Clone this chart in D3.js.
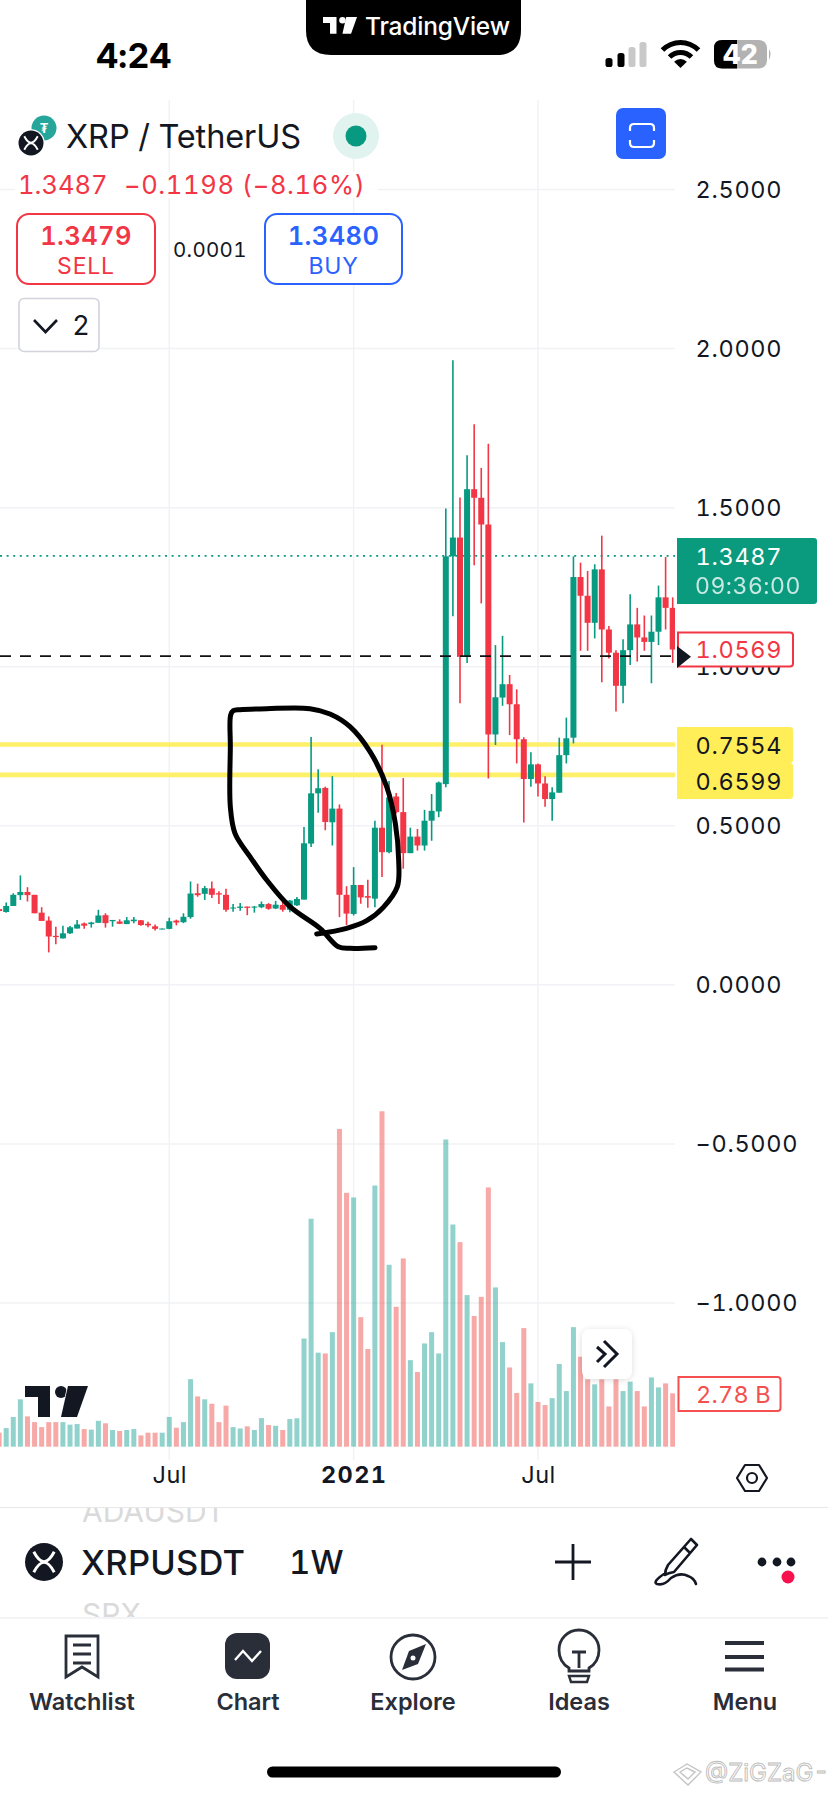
<!DOCTYPE html>
<html><head><meta charset="utf-8">
<script src="https://cdnjs.cloudflare.com/ajax/libs/d3/7.8.5/d3.min.js"></script>
<style>html,body{margin:0;padding:0;background:#fff}svg{display:block}text{font-family:Inter,"Noto Sans",sans-serif;font-variant-numeric:tabular-nums}</style>
</head><body><svg id="c" width="828" height="1794" viewBox="0 0 828 1794"></svg>
<script>
// Weekly XRP/USDT candles (index 0 is the partly cut candle at the left edge)
const opens=[.238,.229,.248,.282,.292,.283,.227,.202,.154,.146,.162,.177,.193,.191,.195,.219,.200,.199,.191,.200,.203,.192,.184,.175,.176,.202,.197,.213,.288,.286,.303,.288,.283,.240,.242,.246,.243,.244,.254,.240,.251,.236,.250,.268,.444,.602,.619,.511,.554,.283,.223,.314,.279,.271,.494,.417,.592,.543,.414,.466,.438,.516,.545,.631,1.347,1.406,1.031,1.558,1.531,1.447,.787,.903,.945,.882,.772,.647,.693,.633,.584,.604,.722,.777,1.282,1.223,1.138,1.306,1.117,1.044,.940,1.052,1.133,1.092,1.078,1.110,1.218,1.185];
const highs=[.242,.259,.288,.344,.307,.283,.244,.215,.183,.186,.185,.204,.196,.198,.236,.225,.204,.206,.213,.213,.204,.198,.190,.177,.211,.205,.225,.325,.318,.311,.325,.294,.302,.254,.257,.246,.248,.262,.257,.264,.262,.267,.276,.496,.779,.678,.623,.656,.567,.310,.370,.314,.330,.516,.755,.641,.603,.650,.494,.490,.550,.600,.639,1.497,1.963,1.532,1.665,1.762,1.625,1.701,1.068,1.097,.974,.929,.778,.731,.696,.656,.621,.777,.840,1.347,1.327,1.301,1.322,1.412,1.128,1.052,1.086,1.228,1.185,1.161,1.161,1.255,1.345,1.218];
const lows=[.229,.227,.248,.267,.262,.225,.201,.102,.128,.146,.160,.177,.176,.180,.195,.180,.183,.191,.191,.194,.186,.181,.171,.175,.175,.187,.194,.208,.277,.267,.273,.254,.230,.230,.233,.219,.227,.241,.236,.238,.230,.228,.248,.268,.433,.541,.486,.438,.213,.188,.218,.255,.242,.244,.339,.414,.539,.365,.414,.422,.422,.453,.527,.621,1.159,.885,1.012,1.319,1.199,.649,.754,.877,.785,.696,.510,.623,.592,.560,.516,.604,.696,.759,1.050,1.050,1.089,.951,1.026,.859,.885,1.005,1.016,1.050,.948,1.068,1.117,1.012];
const closes=[.232,.248,.283,.292,.282,.225,.201,.152,.150,.162,.181,.190,.186,.196,.218,.194,.204,.192,.203,.205,.188,.187,.176,.177,.200,.196,.214,.287,.282,.304,.283,.284,.236,.243,.246,.242,.246,.254,.239,.252,.236,.265,.270,.445,.602,.618,.512,.554,.283,.224,.314,.275,.274,.494,.417,.589,.543,.414,.466,.438,.516,.547,.636,1.347,1.406,1.031,1.558,1.531,1.447,.787,.904,.945,.882,.772,.647,.693,.633,.584,.605,.722,.775,1.282,1.223,1.138,1.306,1.117,1.044,.940,1.052,1.133,1.092,1.078,1.110,1.218,1.185,1.054];
// Volume per week, in billions
const volumes=[.73,.97,1.55,2.47,1.58,1.28,1.02,1.28,1.28,1.28,1.15,1.18,.92,.89,1.35,1.22,.87,.82,.87,.92,.59,.73,.73,.73,1.55,.99,1.28,3.52,2.62,2.47,2.24,1.28,2.14,1.02,.95,1.06,.87,1.49,1.13,1.09,.87,1.44,1.48,5.64,11.88,4.90,4.86,5.97,16.56,13.23,12.99,6.75,5.09,13.61,17.48,9.48,7.29,9.81,4.51,3.89,5.38,5.97,4.86,16.01,11.58,10.66,7.90,6.81,7.81,13.51,8.30,5.45,4.13,2.80,6.18,3.30,2.33,2.17,2.53,4.31,2.90,6.23,4.69,3.51,3.25,3.51,2.10,3.51,2.90,3.39,2.90,2.10,3.61,3.09,3.30,2.78];
const priceTicks=[2.5,2,1.5,1,.5,0,-.5,-1];
const timeTickIdx=[24,50,76];
const timeTickLabels=["Jul","2021","Jul"];
const supportLevels=[.7554,.6599];
const lastPrice=1.3487, avgLine=1.033;
const scribble=[[950,762],[1040,745],[1100,722],[1150,682],[1192,620],[1196,540],[1186,430],[1160,320],[1110,215],[1050,140],[990,102],[930,86],[800,86],[720,89],[700,92],[692,105],[691,200],[691,380],[705,460],[750,530],[800,600],[870,680],[960,745],[1015,800],[1050,805],[1125,803]];

const GREEN="#089981",RED="#f23645",INK="#131722",NAV="#2a2e39",BLUE="#2962ff",GRID="#f1f2f5",YEL="#ffee58";
const VOL_UP="#26a69a",VOL_DOWN="#ef5350";
const svg=d3.select("#c");
const defs=svg.append("defs");
defs.append("clipPath").attr("id","plot").append("rect").attr("x",0).attr("y",100).attr("width",675).attr("height",1360);
defs.append("clipPath").attr("id","adaClip").append("rect").attr("x",0).attr("y",1508).attr("width",828).attr("height",109);
const f=defs.append("filter").attr("id","shadow").attr("x","-30%").attr("y","-30%").attr("width","160%").attr("height","160%");
f.append("feDropShadow").attr("dx",0).attr("dy",1).attr("stdDeviation",3).attr("flood-color","#000").attr("flood-opacity",.14);

const x=d3.scaleLinear().domain([0,95]).range([-0.89,672.7]);
const y=d3.scaleLinear().domain([-1,2.5]).range([1303,189.5]);
const v=d3.scaleLinear().domain([0,18]).range([1446.7,1101.3]);
const idx=d3.range(volumes.length);
const up=i=>closes[i]>=opens[i];

const plot=svg.append("g").attr("clip-path","url(#plot)");
// grid
plot.selectAll(".gh").data(priceTicks).join("line").attr("x1",0).attr("x2",675).attr("y1",d=>y(d)).attr("y2",d=>y(d)).attr("stroke",GRID).attr("stroke-width",1.5);
plot.selectAll(".gv").data(timeTickIdx).join("line").attr("x1",d=>x(d)).attr("x2",d=>x(d)).attr("y1",100).attr("y2",1460).attr("stroke",GRID).attr("stroke-width",1.5);
// levels
plot.selectAll(".lvl").data(supportLevels).join("line").attr("x1",0).attr("x2",675).attr("y1",d=>y(d)).attr("y2",d=>y(d)).attr("stroke","#fff06a").attr("stroke-width",4.6);
plot.append("line").attr("x1",0).attr("x2",675).attr("y1",y(lastPrice)).attr("y2",y(lastPrice)).attr("stroke",GREEN).attr("stroke-width",1.8).attr("stroke-dasharray","2 4.6");
// volume
plot.selectAll(".vol").data(idx).join("rect").attr("x",i=>x(i)-2.5).attr("width",5).attr("y",i=>v(volumes[i])).attr("height",i=>v(0)-v(volumes[i])).attr("fill",i=>up(i)?VOL_UP:VOL_DOWN).attr("opacity",.5);
// candles
plot.selectAll(".wick").data(idx).join("line").attr("x1",i=>x(i)).attr("x2",i=>x(i)).attr("y1",i=>y(highs[i])).attr("y2",i=>y(lows[i])).attr("stroke",i=>up(i)?GREEN:RED).attr("stroke-width",1.6);
plot.selectAll(".body").data(idx).join("rect").attr("x",i=>x(i)-3).attr("width",6).attr("y",i=>y(Math.max(opens[i],closes[i]))).attr("height",i=>Math.max(1,Math.abs(y(opens[i])-y(closes[i])))).attr("fill",i=>up(i)?GREEN:RED);
// dashed line
plot.append("line").attr("x1",0).attr("x2",675).attr("y1",y(avgLine)).attr("y2",y(avgLine)).attr("stroke","#111").attr("stroke-width",1.8).attr("stroke-dasharray","11 9");
// tv logo
function tvLogo(g,col){
 g.append("path").attr("d","M0 0H25V31H13V11H0Z").attr("fill",col);
 g.append("circle").attr("cx",36).attr("cy",6).attr("r",6).attr("fill",col);
 g.append("path").attr("d","M43 0H63L52 31H36Z").attr("fill",col);
}
const lg=svg.append("g").attr("transform","translate(25,1386)");
tvLogo(lg,INK);
lg.selectAll("path,circle").attr("stroke","#fff").attr("stroke-width",1.5).attr("paint-order","stroke");
// scribble
svg.append("path").attr("d",d3.line().x(d=>d[0]/3).y(d=>680+d[1]/3).curve(d3.curveCatmullRom.alpha(.5))(scribble)).attr("fill","none").attr("stroke","#000").attr("stroke-width",5).attr("stroke-linecap","round").attr("stroke-linejoin","round");

// axes
const yAxis=d3.axisRight(y).tickValues(priceTicks).tickSize(0).tickPadding(0).tickFormat(d3.format(".4f"));
const ya=svg.append("g").attr("transform","translate(695.5,0)").call(yAxis);
ya.select(".domain").remove();
ya.selectAll("text").attr("font-size",23.5).attr("fill",INK).attr("letter-spacing",.7).attr("font-family","Inter");
const xAxis=d3.axisBottom(x).tickValues(timeTickIdx).tickSize(0).tickPadding(0).tickFormat((d,i)=>timeTickLabels[i]);
const xa=svg.append("g").attr("transform","translate(0,1466)").call(xAxis);
xa.select(".domain").remove();
xa.selectAll("text").attr("font-size",23.5).attr("fill",INK).attr("font-family","Inter").attr("font-weight",(d,i)=>timeTickLabels[i]==="2021"?700:400).attr("letter-spacing",(d,i)=>timeTickLabels[i]==="2021"?1.4:.5);

// price tags
function tag(xx,yy,w,h,fill,stroke){
 const r=3;
 svg.append("path").attr("d",`M${xx} ${yy}H${xx+w-r}Q${xx+w} ${yy} ${xx+w} ${yy+r}V${yy+h-r}Q${xx+w} ${yy+h} ${xx+w-r} ${yy+h}H${xx}Z`).attr("fill",fill).attr("stroke",stroke||"none").attr("stroke-width",stroke?2:0);
}
function label(t,xx,yy,o){
 return svg.append("text").attr("x",xx).attr("y",yy).attr("dominant-baseline","central").attr("text-anchor",(o&&o.a)||"start").attr("font-size",(o&&o.s)||23.5).attr("font-weight",(o&&o.w)||400).attr("fill",(o&&o.c)||INK).attr("letter-spacing",(o&&o.ls)||0).attr("opacity",(o&&o.o)||1).text(t);
}
const tagV=d=>d3.format(".4f")(d);
tag(677,538,140,66,"#0a9a7e");
label(tagV(lastPrice),695.5,556,{c:"#fff",ls:.7});
label("09:36:00",695,586,{c:"#fff",o:.78,ls:.5,s:23});
tag(678,632.5,115,34,"#fff",RED);
label("1.0569",695.5,649.5,{c:RED,ls:.7});
svg.append("path").attr("d","M677 646L691 656.7L677 668Z").attr("fill",INK);
tag(677,727,116,36,YEL);
tag(677,763,116,36,YEL);
label(tagV(supportLevels[0]),695.5,745,{c:INK,ls:.7});
label(tagV(supportLevels[1]),695.5,781,{c:INK,ls:.7});
tag(678.5,1377,102,34,"#fff","#f4504f");
label("2.78 B",696,1394,{c:"#f4504f",ls:.2});

// scroll button
svg.append("rect").attr("x",582).attr("y",1329).attr("width",50).attr("height",50).attr("rx",8).attr("fill","#fff").attr("filter","url(#shadow)");
svg.append("path").attr("d","M597 1347L605 1354L597 1362M604 1341L617 1354L604 1367").attr("fill","none").attr("stroke",INK).attr("stroke-width",3);
// settings hexagon
svg.append("path").attr("d","M745 1465H759L767 1478L759 1491H745L737 1478Z").attr("fill","none").attr("stroke",INK).attr("stroke-width",2.2).attr("stroke-linejoin","round");
svg.append("circle").attr("cx",752).attr("cy",1478).attr("r",5).attr("fill","none").attr("stroke",INK).attr("stroke-width",2.2);

// status bar
svg.append("path").attr("d","M306 0H521V30Q521 55 496 55H331Q306 55 306 30Z").attr("fill","#000");
tvLogo(svg.append("g").attr("transform","translate(323,17) scale(.54)"),"#fff");
label("TradingView",365,26,{s:24.5,w:500,c:"#fff",ls:-.2});
label("4:24",96,55,{s:34.5,w:700,c:"#000",ls:-.2});
[[609,9,"#000"],[621,14,"#000"],[632,20,"#c9c9c9"],[643,25,"#c9c9c9"]].forEach(b=>svg.append("rect").attr("x",b[0]-3.5).attr("y",67-b[1]).attr("width",7).attr("height",b[1]).attr("rx",2.6).attr("fill",b[2]));
[[0,9],[13,19],[23,29]].forEach((b,i)=>{svg.append("path").attr("transform","translate(680.5,68)").attr("d",d3.arc().innerRadius(b[0]).outerRadius(b[1]-(i?1:0)).startAngle(-Math.PI/4).endAngle(Math.PI/4)()).attr("fill","#000");});
svg.append("rect").attr("x",714).attr("y",40).attr("width",53).attr("height",28.5).attr("rx",8).attr("fill","#b2b2b2");
svg.append("path").attr("d","M737 40H722Q714 40 714 48V60.5Q714 68.5 722 68.5H737Z").attr("fill","#000");
svg.append("path").attr("d","M769 49Q772 54 769 60Z").attr("fill","#b2b2b2");
label("42",740.5,54.5,{s:27,w:800,c:"#fff",a:"middle"});

// header
function xrpIcon(cx,cy,r){
 svg.append("circle").attr("cx",cx).attr("cy",cy).attr("r",r+1.2).attr("fill","#fff");
 svg.append("circle").attr("cx",cx).attr("cy",cy).attr("r",r).attr("fill","#131722");
 const s=r/13;
 svg.append("path").attr("transform",`translate(${cx},${cy}) scale(${s})`).attr("d","M-7 -7Q0 6.5 7 -7M-7 7Q0 -6.5 7 7").attr("fill","none").attr("stroke","#fff").attr("stroke-width",2);
}
svg.append("circle").attr("cx",44).attr("cy",128).attr("r",12.5).attr("fill","#26a69a");
label("₮",44,128,{s:13,w:700,c:"#fff",a:"middle"});
xrpIcon(31,143,12.5);
label("XRP / TetherUS",66,136,{s:32.5,w:400,c:INK,ls:-.1});
svg.append("circle").attr("cx",356).attr("cy",136).attr("r",23).attr("fill","#e0f3ef");
svg.append("circle").attr("cx",356).attr("cy",136).attr("r",10.5).attr("fill",GREEN);
svg.append("rect").attr("x",616).attr("y",108).attr("width",50).attr("height",51).attr("rx",7).attr("fill",BLUE);
svg.append("path").attr("d","M630 131V128Q630 124 634 124H650Q654 124 654 128V131M630 140V143Q630 147 634 147H650Q654 147 654 143V140").attr("fill","none").attr("stroke","#fff").attr("stroke-width",2.2);
svg.append("rect").attr("x",15).attr("y",172).attr("width",363).attr("height",26).attr("fill","#fff").attr("opacity",.85);
label("1.3487",18,184,{s:25.5,c:RED});
label("−0.1198 (−8.16%)",124,184,{s:25.5,c:RED,ls:.65});
svg.append("rect").attr("x",17).attr("y",214).attr("width",138).attr("height",70).attr("rx",12).attr("fill","#fff").attr("stroke",RED).attr("stroke-width",2);
label("1.3479",86,235,{s:25.5,w:600,c:RED,a:"middle",ls:.4});
label("SELL",86,266,{s:23,c:RED,a:"middle",ls:.8});
label("0.0001",173,249,{s:20.5,c:INK,ls:.3});
svg.append("rect").attr("x",265).attr("y",214).attr("width",137).attr("height",70).attr("rx",12).attr("fill","#fff").attr("stroke",BLUE).attr("stroke-width",2);
label("1.3480",333.5,235,{s:25.5,w:600,c:BLUE,a:"middle",ls:.4});
label("BUY",333.5,266,{s:23,c:BLUE,a:"middle",ls:.8});
svg.append("rect").attr("x",19).attr("y",298.5).attr("width",80).attr("height",53).attr("rx",5).attr("fill","#fff").attr("stroke","#d1d4dc").attr("stroke-width",1.6);
svg.append("path").attr("d","M34 320L45.5 332L57 320").attr("fill","none").attr("stroke",INK).attr("stroke-width",2.6);
label("2",81,325.5,{s:27,c:INK,a:"middle"});

// bottom bar
svg.append("line").attr("x1",0).attr("x2",828).attr("y1",1507.5).attr("y2",1507.5).attr("stroke","#e8e8e8").attr("stroke-width",1.2);
const cl=svg.append("g").attr("clip-path","url(#adaClip)");
cl.append("text").attr("x",82).attr("y",1522).attr("font-size",30).attr("fill","#dadada").text("ADAUSDT");
cl.append("text").attr("x",82).attr("y",1625).attr("font-size",30).attr("fill","#dadada").text("SPX");
svg.append("line").attr("x1",0).attr("x2",828).attr("y1",1618).attr("y2",1618).attr("stroke","#eff0f3").attr("stroke-width",1.6);
xrpIcon(44,1562,19);
label("XRPUSDT",81,1562,{s:34.5,w:500,c:INK,ls:.2});
label("1W",289,1562,{s:33,w:500,c:INK,ls:0});
svg.append("path").attr("d","M573 1544V1580M555 1562H591").attr("stroke",INK).attr("stroke-width",2.8).attr("fill","none");
svg.append("path").attr("d","M691 1539L697 1545L674 1572Q668 1573 665 1575Q665 1570 668 1565ZM684 1547L690 1553").attr("fill","none").attr("stroke",INK).attr("stroke-width",2.6).attr("stroke-linejoin","round");
svg.append("path").attr("d","M664 1574Q652 1582 657 1584Q664 1586 671 1578Q680 1572 688 1576Q694 1578 696 1584").attr("fill","none").attr("stroke",INK).attr("stroke-width",2.6).attr("stroke-linecap","round");
[762,777,791].forEach(cx=>svg.append("circle").attr("cx",cx).attr("cy",1562).attr("r",4.4).attr("fill",INK));
svg.append("circle").attr("cx",788).attr("cy",1577).attr("r",6.5).attr("fill","#f7114f");

// nav
const navNames=["Watchlist","Chart","Explore","Ideas","Menu"], navX=[82,248,413,579,745];
navNames.forEach((n,i)=>label(n,navX[i],1701,{s:23.5,w:600,c:NAV,a:"middle"}));
svg.append("path").attr("d","M66 1636H98V1677L82 1667L66 1677Z").attr("fill","none").attr("stroke",NAV).attr("stroke-width",2.8);
svg.append("path").attr("d","M73 1645H91M73 1654H91M73 1663H91").attr("stroke",NAV).attr("stroke-width",3);
svg.append("rect").attr("x",225).attr("y",1633).attr("width",45).attr("height",46).attr("rx",12).attr("fill",NAV);
svg.append("path").attr("d","M235 1660L243 1651L252 1661L261 1651").attr("fill","none").attr("stroke","#fff").attr("stroke-width",2.4);
svg.append("circle").attr("cx",413).attr("cy",1657).attr("r",22).attr("fill","none").attr("stroke",NAV).attr("stroke-width",2.8);
svg.append("path").attr("d","M426 1644L418 1664L402 1670L409 1651Z").attr("fill",NAV);
svg.append("circle").attr("cx",413).attr("cy",1658).attr("r",2.5).attr("fill","#fff");
svg.append("path").attr("d","M569 1671V1668Q559 1662 559 1650A20 20 0 0 1 599 1650Q599 1662 589 1668V1671Z").attr("fill","none").attr("stroke",NAV).attr("stroke-width",2.8);
svg.append("path").attr("d","M572 1652H586M579 1652V1668").attr("stroke",NAV).attr("stroke-width",2.8);
svg.append("path").attr("d","M569 1676H589L587 1682H571Z").attr("fill","none").attr("stroke",NAV).attr("stroke-width",2.4);
svg.append("path").attr("d","M725 1643H764M725 1657H764M725 1669.5H764").attr("stroke",NAV).attr("stroke-width",4);
svg.append("rect").attr("x",267).attr("y",1766.5).attr("width",294).attr("height",11).attr("rx",5.5).attr("fill","#000");

// watermark
svg.append("path").attr("d","M674 1772L687 1764L701 1772L688 1785ZM680 1772L687 1768L695 1772L688 1779Z").attr("fill","none").attr("stroke","#c4c4c4").attr("stroke-width",1.4);
label("@ZiGZaG-",705,1772,{s:24,c:"#fff"}).attr("stroke","#bdbdbd").attr("stroke-width",.9);
</script></body></html>
